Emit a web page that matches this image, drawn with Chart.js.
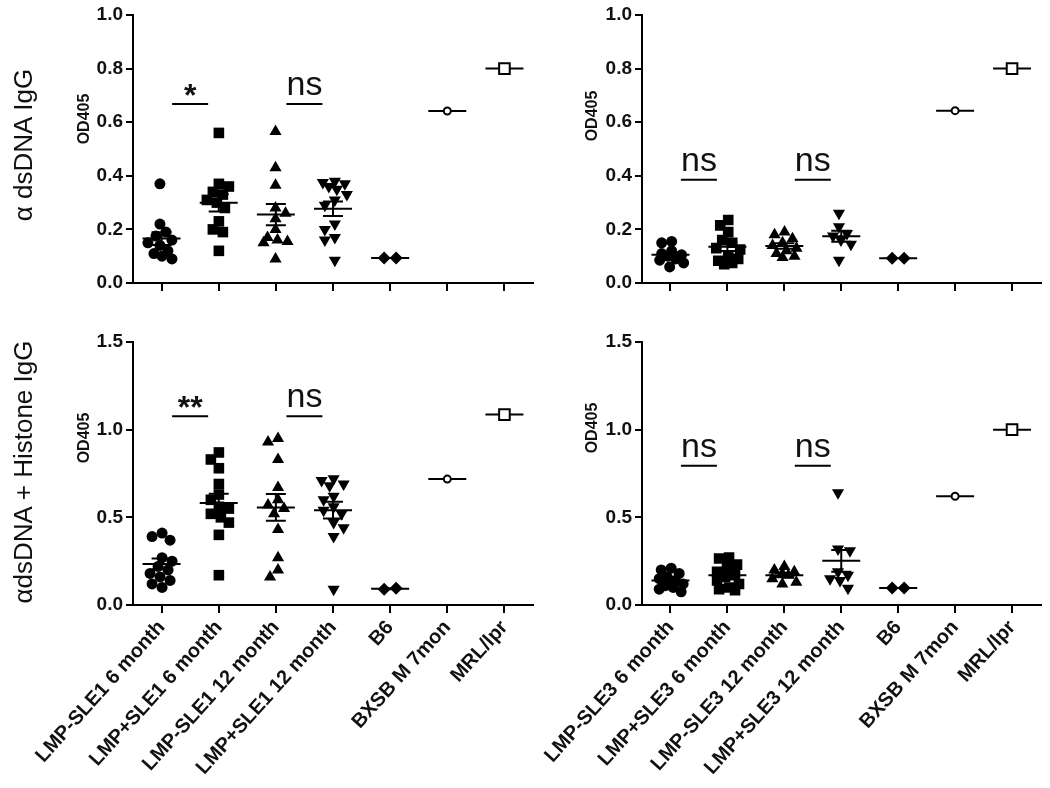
<!DOCTYPE html>
<html>
<head>
<meta charset="utf-8">
<script src="https://cdn.jsdelivr.net/npm/chart.js@4.4.1/dist/chart.umd.min.js"></script>
<style>
  html,body{margin:0;padding:0;background:#fff;}
  body{width:1050px;height:788px;position:relative;overflow:hidden;font-family:"Liberation Sans",Arial,sans-serif;color:#111;}
  canvas{position:absolute;}
  .vt{position:absolute;white-space:nowrap;transform:translate(-50%,-50%) rotate(-90deg);line-height:1;}
</style>
</head>
<body>
<canvas id="cTL" width="545" height="300" style="left:0;top:0"></canvas>
<canvas id="cTR" width="530" height="300" style="left:520px;top:0"></canvas>
<canvas id="cBL" width="545" height="488" style="left:0;top:300px"></canvas>
<canvas id="cBR" width="530" height="488" style="left:520px;top:300px"></canvas>

<div class="vt" style="left:23px;top:145px;font-size:26px;">α dsDNA IgG</div>
<div class="vt" style="left:23px;top:472px;font-size:26px;">αdsDNA + Histone IgG</div>
<div class="vt" style="left:84px;top:119px;font-size:16px;font-weight:bold;">OD405</div>
<div class="vt" style="left:592px;top:116px;font-size:16px;font-weight:bold;">OD405</div>
<div class="vt" style="left:84px;top:438px;font-size:16px;font-weight:bold;">OD405</div>
<div class="vt" style="left:592px;top:428px;font-size:16px;font-weight:bold;">OD405</div>

<script>
// ---------------- DATA ----------------
const categoriesSLE1 = ['LMP-SLE1 6 month','LMP+SLE1 6 month','LMP-SLE1 12 month','LMP+SLE1 12 month','B6','BXSB M 7mon','MRL/lpr'];
const categoriesSLE3 = ['LMP-SLE3 6 month','LMP+SLE3 6 month','LMP-SLE3 12 month','LMP+SLE3 12 month','B6','BXSB M 7mon','MRL/lpr'];
const yTicksDsDNA = [0, 0.2, 0.4, 0.6, 0.8, 1.0];
const yTicksHistone = [0, 0.5, 1.0, 1.5];

// alpha dsDNA IgG, SLE1 groups
const dsDNA_SLE1 = [
  [0.37,0.22,0.19,0.175,0.16,0.15,0.14,0.12,0.11,0.10,0.09],
  [0.56,0.37,0.36,0.34,0.33,0.31,0.30,0.28,0.23,0.20,0.19,0.12],
  [0.565,0.43,0.365,0.28,0.26,0.24,0.20,0.17,0.16,0.155,0.15,0.09],
  [0.38,0.375,0.37,0.36,0.35,0.33,0.31,0.29,0.22,0.20,0.17,0.16,0.085],
  [0.093,0.093],
  [0.642],
  [0.80]
];
// alpha dsDNA IgG, SLE3 groups
const dsDNA_SLE3 = [
  [0.155,0.15,0.12,0.11,0.105,0.10,0.09,0.085,0.075,0.06],
  [0.235,0.215,0.19,0.16,0.15,0.13,0.125,0.10,0.09,0.083,0.075,0.07],
  [0.19,0.18,0.165,0.15,0.14,0.13,0.12,0.11,0.10,0.095],
  [0.26,0.21,0.185,0.175,0.16,0.145,0.085],
  [0.092,0.092],
  [0.643],
  [0.80]
];
// alpha dsDNA + Histone IgG, SLE1 groups
const histone_SLE1 = [
  [0.41,0.39,0.37,0.27,0.25,0.22,0.20,0.18,0.16,0.14,0.12,0.10],
  [0.87,0.83,0.78,0.69,0.63,0.60,0.56,0.55,0.52,0.50,0.47,0.40,0.17],
  [0.95,0.93,0.83,0.67,0.60,0.57,0.55,0.52,0.43,0.27,0.20,0.16],
  [0.72,0.71,0.69,0.68,0.62,0.60,0.56,0.54,0.52,0.47,0.44,0.39,0.09],
  [0.095,0.09],
  [0.718],
  [1.086]
];
// alpha dsDNA + Histone IgG, SLE3 groups
const histone_SLE3 = [
  [0.21,0.20,0.18,0.16,0.15,0.14,0.12,0.11,0.10,0.09,0.075],
  [0.27,0.265,0.23,0.21,0.19,0.17,0.16,0.14,0.12,0.10,0.09,0.085],
  [0.22,0.20,0.19,0.18,0.17,0.15,0.13,0.12],
  [0.64,0.32,0.31,0.19,0.17,0.15,0.14,0.095],
  [0.097,0.097],
  [0.62],
  [1.0]
];
const sigSLE1 = ['*','ns'];
const sigSLE1Histone = ['**','ns'];
const sigSLE3 = ['ns','ns'];

// ---------------- STYLE ----------------
const FONT = '"Liberation Sans", Arial, sans-serif';
const markers = [
  {pointStyle:'circle',   radius:5.5, rotation:0,   bg:'#000', bw:0, w:11},
  {pointStyle:'rect',     radius:7.5, rotation:0,   bg:'#000', bw:0, w:11},
  {pointStyle:'triangle', radius:7,   rotation:0,   bg:'#000', bw:0, w:12},
  {pointStyle:'triangle', radius:7,   rotation:180, bg:'#000', bw:0, w:12},
  {pointStyle:'rectRot',  radius:6.5, rotation:0,   bg:'#000', bw:0, w:13},
  {pointStyle:'circle',   radius:3.5, rotation:0,   bg:'#fff', bw:2, w:9},
  {pointStyle:'rect',     radius:7.5, rotation:0,   bg:'#fff', bw:2, w:12}
];

// deterministic beeswarm: place each point at the nearest free horizontal slot
function swarmOffsets(vals, pxPerY, pxPerX, size){
  const idx = vals.map((v,i)=>i).sort((a,b)=>vals[b]-vals[a]);
  const placed = [];
  const offs = new Array(vals.length).fill(0);
  idx.forEach((i, k) => {
    const py = vals[i]*pxPerY;
    const cands = [0];
    for (let s = 2; s <= 12; s += 2){ if (k % 2) cands.push(-s, s); else cands.push(s, -s); }
    let best = 0, bestD = -1;
    for (const c of cands){
      let d = Infinity;
      for (const p of placed) d = Math.min(d, Math.hypot(p.x-c, p.y-py));
      if (d >= size*0.85){ best = c; bestD = d; break; }
      if (d > bestD){ bestD = d; best = c; }
    }
    placed.push({x: best, y: py});
    offs[i] = best;
  });
  const meanOff = offs.reduce((a,b)=>a+b,0)/offs.length;
  return offs.map(o => (o - meanOff)/pxPerX);
}

function makePanel(id, cfg){
  const canvas = document.getElementById(id);
  const W = canvas.width, H = canvas.height;
  const areaH = cfg.areaBottom - cfg.areaTop;
  const areaW = cfg.areaRight - cfg.areaLeft;
  const yMax = cfg.yTicks[cfg.yTicks.length-1];
  const pxPerY = areaH / yMax;
  const pxPerX = areaW / 7;

  const datasets = cfg.groups.map((vals, g) => {
    const m = markers[g];
    const offs = swarmOffsets(vals, pxPerY, pxPerX, m.w);
    return {
      label: cfg.categories[g],
      data: vals.map((v,i)=>({x: g + offs[i], y: v})),
      pointStyle: m.pointStyle,
      pointRadius: m.radius,
      pointRotation: m.rotation,
      pointBackgroundColor: m.bg,
      pointBorderColor: '#000',
      pointBorderWidth: m.bw,
      pointHoverRadius: m.radius
    };
  });

  const statsPlugin = {
    id: 'stats_' + id,
    beforeDatasetsDraw(chart){
      const {ctx, scales:{x, y}} = chart;
      ctx.save();
      ctx.strokeStyle = '#000';
      ctx.lineWidth = 2;
      cfg.groups.forEach((vals, g) => {
        const n = vals.length;
        const mean = vals.reduce((a,b)=>a+b,0)/n;
        const sd = n > 1 ? Math.sqrt(vals.reduce((a,b)=>a+(b-mean)*(b-mean),0)/(n-1)) : 0;
        const sem = sd/Math.sqrt(n);
        const cx = x.getPixelForValue(g);
        const my = y.getPixelForValue(mean);
        ctx.beginPath();
        ctx.moveTo(cx-19, my); ctx.lineTo(cx+19, my);
        if (sem > 0.001){
          const t = y.getPixelForValue(mean+sem), b = y.getPixelForValue(mean-sem);
          ctx.moveTo(cx, t); ctx.lineTo(cx, b);
          ctx.moveTo(cx-10, t); ctx.lineTo(cx+10, t);
          ctx.moveTo(cx-10, b); ctx.lineTo(cx+10, b);
        }
        ctx.stroke();
      });
      ctx.restore();
    },
    afterDatasetsDraw(chart){
      const {ctx, scales:{x, y}} = chart;
      ctx.save();
      ctx.strokeStyle = '#000';
      ctx.fillStyle = '#111';
      ctx.lineWidth = 2;
      cfg.sig.forEach((txt, k) => {
        const from = k*2, to = k*2+1;
        const cx = (x.getPixelForValue(from) + x.getPixelForValue(to))/2;
        const ly = y.getPixelForValue(cfg.sigLevel);
        ctx.beginPath();
        ctx.moveTo(cx-18, ly); ctx.lineTo(cx+18, ly);
        ctx.stroke();
        ctx.textAlign = 'center';
        ctx.textBaseline = 'alphabetic';
        if (txt === 'ns'){
          ctx.font = '34px ' + FONT;
          ctx.fillText(txt, cx, ly - 9);
        } else {
          ctx.font = 'bold 32px ' + FONT;
          ctx.fillText(txt, cx, ly + 2);
        }
      });
      ctx.restore();
    }
  };

  return new Chart(canvas, {
    type: 'scatter',
    data: { datasets },
    plugins: [statsPlugin],
    options: {
      responsive: false,
      animation: false,
      devicePixelRatio: 1,
      layout: { padding: { left: 0, top: cfg.areaTop, right: W - cfg.areaRight, bottom: 0 } },
      plugins: { legend: { display: false }, tooltip: { enabled: false } },
      scales: {
        x: {
          type: 'linear',
          min: -0.5, max: 6.5,
          afterBuildTicks: (ax) => { ax.ticks = cfg.categories.map((c,i)=>({value:i})); },
          afterFit: (ax) => { ax.height = H - cfg.areaBottom; ax.paddingLeft = 0; ax.paddingRight = 0; },
          grid: { display: true, drawOnChartArea: false, drawTicks: true, tickLength: 8, color: '#000', lineWidth: 2 },
          border: { display: true, color: '#000', width: 2 },
          ticks: {
            display: cfg.showLabels,
            autoSkip: false,
            minRotation: 48, maxRotation: 48,
            padding: 3,
            color: '#111',
            font: { family: FONT, size: 20, weight: 'bold' },
            callback: (v) => cfg.showLabels ? cfg.categories[Math.round(v)] : ''
          }
        },
        y: {
          type: 'linear',
          min: 0, max: yMax,
          afterBuildTicks: (ax) => { ax.ticks = cfg.yTicks.map(v=>({value:v})); },
          afterFit: (ax) => { ax.width = cfg.areaLeft; ax.paddingTop = 0; ax.paddingBottom = 0; },
          grid: { display: true, drawOnChartArea: false, drawTicks: true, tickLength: 7, color: '#000', lineWidth: 2 },
          border: { display: true, color: '#000', width: 2 },
          ticks: {
            padding: 3,
            color: '#111',
            font: { family: FONT, size: 19, weight: 'bold' },
            callback: (v) => Number(v).toFixed(1)
          }
        }
      }
    }
  });
}

makePanel('cTL', {categories: categoriesSLE1, groups: dsDNA_SLE1, yTicks: yTicksDsDNA, showLabels:false,
  areaLeft:133, areaRight:533, areaTop:15, areaBottom:283, sig: sigSLE1, sigLevel: 0.668});
makePanel('cTR', {categories: categoriesSLE3, groups: dsDNA_SLE3, yTicks: yTicksDsDNA, showLabels:false,
  areaLeft:122, areaRight:522, areaTop:15, areaBottom:283, sig: sigSLE3, sigLevel: 0.385});
makePanel('cBL', {categories: categoriesSLE1, groups: histone_SLE1, yTicks: yTicksHistone, showLabels:true,
  areaLeft:133, areaRight:533, areaTop:42, areaBottom:305, sig: sigSLE1Histone, sigLevel: 1.076});
makePanel('cBR', {categories: categoriesSLE3, groups: histone_SLE3, yTicks: yTicksHistone, showLabels:true,
  areaLeft:122, areaRight:522, areaTop:42, areaBottom:305, sig: sigSLE3, sigLevel: 0.794});
</script>
</body>
</html>
